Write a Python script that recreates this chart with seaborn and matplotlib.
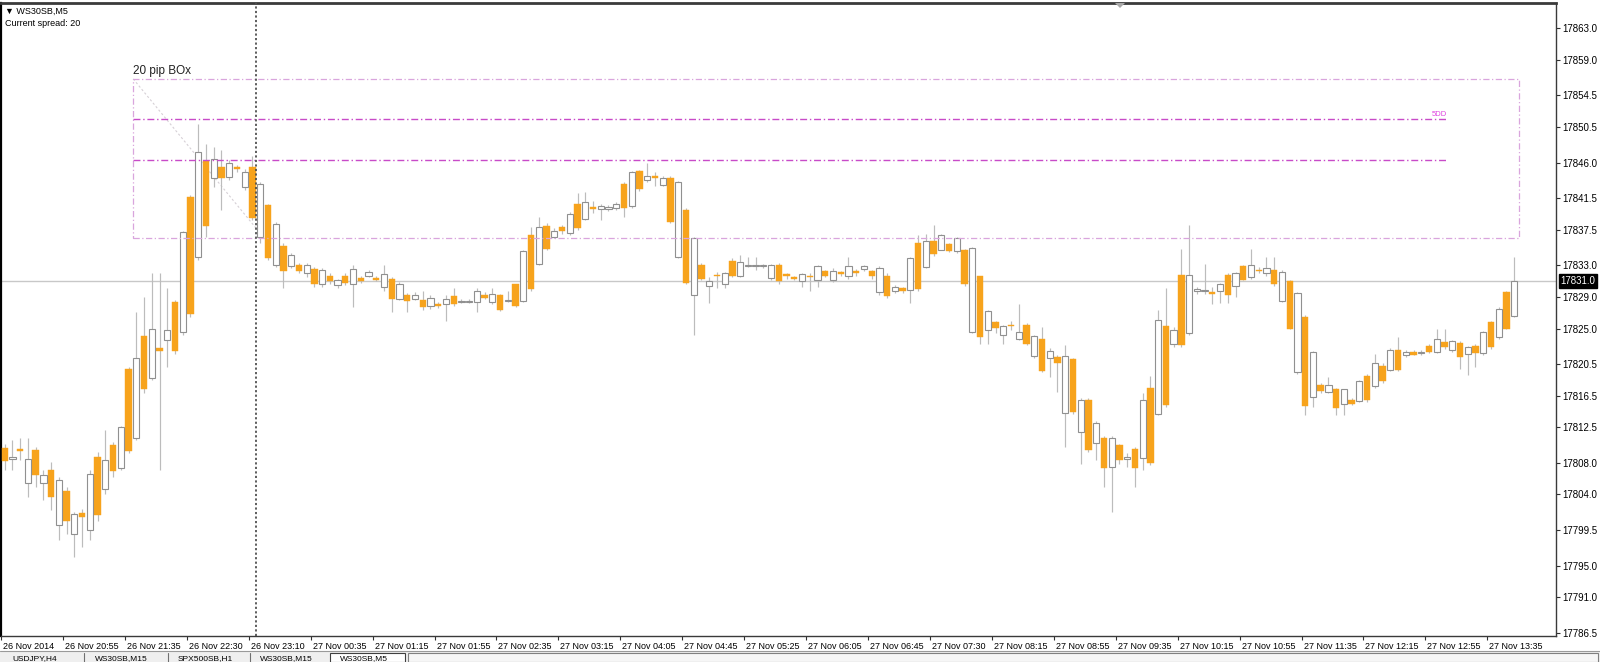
import numpy as np
import pandas as pd
import matplotlib
matplotlib.use("Agg")
import matplotlib.pyplot as plt
import seaborn as sns
from matplotlib.patches import Rectangle, Polygon
from matplotlib.lines import Line2D
from matplotlib.transforms import ScaledTranslation

# ---------------- data (WS30SB, M5) ----------------
opens = [17809.9, 17808.5, 17809.7, 17805.5, 17809.6, 17805.5, 17807.1, 17800.1, 17804.4, 17799.0,
         17801.6, 17799.5, 17808.8, 17804.7, 17810.3, 17807.4, 17819.9, 17811.2, 17824.0, 17818.7,
         17822.5, 17823.5, 17828.4, 17824.5, 17841.6, 17834.1, 17846.2, 17844.0, 17845.5, 17844.2,
         17845.4, 17842.9, 17845.5, 17836.6, 17840.6, 17833.1, 17835.5, 17832.9, 17833.1, 17832.0,
         17832.5, 17830.7, 17831.7, 17830.5, 17831.6, 17830.6, 17831.4, 17831.7, 17831.4, 17830.2,
         17831.3, 17828.8, 17829.3, 17828.7, 17828.6, 17827.8, 17828.1, 17828.1, 17829.1, 17828.3,
         17828.4, 17828.3, 17829.3, 17828.3, 17829.2, 17828.5, 17830.6, 17828.5, 17836.8, 17833.2,
         17838.0, 17836.6, 17837.8, 17837.1, 17840.8, 17838.9, 17840.4, 17840.1, 17840.1, 17840.2,
         17843.3, 17840.5, 17845.0, 17843.8, 17844.3, 17843.2, 17844.1, 17834.1, 17840.0, 17829.3,
         17833.1, 17830.4, 17831.8, 17830.6, 17833.6, 17831.7, 17832.9, 17832.9, 17832.9, 17831.4,
         17833.1, 17831.9, 17831.5, 17831.0, 17831.7, 17831.2, 17832.3, 17831.2, 17832.1, 17831.6,
         17832.3, 17832.5, 17832.3, 17829.6, 17831.7, 17829.8, 17830.1, 17829.9, 17835.8, 17832.8,
         17836.1, 17835.0, 17835.7, 17834.8, 17834.9, 17824.5, 17831.6, 17824.8, 17825.8, 17824.2,
         17825.5, 17823.7, 17825.5, 17821.5, 17823.7, 17821.3, 17821.4, 17814.3, 17821.1, 17811.9,
         17816.0, 17810.5, 17811.2, 17807.5, 17810.3, 17808.5, 17809.8, 17808.6, 17817.5, 17814.2,
         17825.3, 17823.0, 17831.8, 17824.4, 17829.8, 17829.8, 17829.6, 17829.8, 17831.8, 17830.4,
         17832.9, 17831.5, 17832.4, 17832.0, 17832.4, 17828.5, 17831.0, 17819.5, 17826.5, 17816.3,
         17817.9, 17817.0, 17817.3, 17815.5, 17816.0, 17815.8, 17819.0, 17817.7, 17820.3, 17819.8,
         17822.3, 17821.6, 17822.0, 17821.9, 17822.8, 17822.0, 17823.3, 17822.3, 17823.2, 17821.8,
         17822.8, 17821.9, 17825.8, 17823.9, 17829.6, 17826.6]
highs = [17810.4, 17810.9, 17811.1, 17811.1, 17810.0, 17807.1, 17808.1, 17806.2, 17805.0, 17801.8,
         17802.2, 17807.1, 17809.4, 17812.1, 17810.6, 17812.7, 17820.1, 17827.1, 17829.0, 17832.0,
         17832.0, 17830.1, 17828.6, 17837.4, 17841.9, 17850.9, 17848.4, 17848.0, 17847.6, 17846.3,
         17845.7, 17845.2, 17846.9, 17843.6, 17840.8, 17838.5, 17835.8, 17834.5, 17833.3, 17833.3,
         17832.8, 17832.6, 17832.0, 17831.3, 17832.0, 17833.0, 17831.7, 17832.4, 17831.6, 17833.0,
         17831.5, 17830.9, 17829.5, 17829.6, 17829.8, 17829.2, 17828.4, 17829.2, 17830.1, 17828.7,
         17828.7, 17830.1, 17829.6, 17830.1, 17829.4, 17829.8, 17830.7, 17835.0, 17837.9, 17839.1,
         17838.3, 17837.7, 17838.1, 17839.8, 17842.1, 17842.3, 17841.2, 17840.8, 17840.6, 17841.0,
         17843.6, 17845.0, 17845.1, 17845.9, 17844.8, 17844.3, 17844.3, 17843.7, 17840.2, 17836.6,
         17833.3, 17831.5, 17832.2, 17832.2, 17833.9, 17834.3, 17834.1, 17834.1, 17833.2, 17833.2,
         17833.3, 17832.0, 17831.7, 17832.0, 17832.0, 17833.0, 17832.4, 17832.6, 17832.3, 17834.1,
         17832.5, 17833.1, 17832.4, 17832.9, 17832.0, 17830.5, 17830.3, 17834.1, 17836.8, 17837.0,
         17838.1, 17837.0, 17835.8, 17836.6, 17835.1, 17835.3, 17831.7, 17827.4, 17826.0, 17825.5,
         17826.0, 17828.1, 17825.7, 17824.2, 17825.2, 17822.5, 17821.6, 17822.9, 17821.3, 17816.2,
         17816.2, 17813.3, 17811.4, 17811.4, 17810.4, 17809.2, 17810.0, 17816.8, 17819.0, 17827.3,
         17830.1, 17825.2, 17835.1, 17838.1, 17830.3, 17833.2, 17830.3, 17830.8, 17832.0, 17832.2,
         17833.1, 17835.1, 17832.8, 17834.1, 17834.1, 17832.4, 17831.1, 17829.6, 17826.7, 17822.2,
         17818.1, 17818.9, 17817.5, 17817.4, 17816.2, 17818.5, 17819.2, 17821.8, 17820.6, 17822.5,
         17823.9, 17822.3, 17822.3, 17822.3, 17823.0, 17825.0, 17825.0, 17823.6, 17823.4, 17822.8,
         17823.0, 17824.7, 17826.0, 17827.7, 17829.8, 17834.1]
lows = [17807.1, 17807.1, 17808.3, 17803.7, 17805.0, 17803.3, 17802.0, 17798.2, 17799.0, 17796.1,
        17797.4, 17798.2, 17800.7, 17804.1, 17806.2, 17807.1, 17809.2, 17810.9, 17816.8, 17818.5,
        17807.1, 17820.1, 17821.8, 17824.2, 17826.5, 17833.7, 17836.6, 17842.9, 17840.0, 17843.8,
        17844.8, 17842.5, 17838.7, 17835.8, 17833.7, 17832.8, 17830.1, 17832.6, 17832.0, 17831.5,
        17830.3, 17830.3, 17830.7, 17830.1, 17830.5, 17827.7, 17830.8, 17831.5, 17831.0, 17829.8,
        17827.1, 17828.6, 17827.1, 17828.6, 17827.3, 17827.5, 17827.6, 17826.0, 17827.9, 17828.2,
        17828.2, 17827.1, 17828.8, 17828.1, 17827.2, 17828.4, 17827.7, 17828.4, 17829.8, 17833.0,
        17835.0, 17836.4, 17837.0, 17836.9, 17837.5, 17838.7, 17839.6, 17838.7, 17839.9, 17840.0,
        17839.1, 17840.3, 17842.4, 17843.6, 17843.1, 17843.0, 17838.3, 17833.9, 17830.6, 17824.2,
        17831.1, 17828.2, 17830.1, 17830.1, 17831.5, 17831.5, 17832.8, 17832.4, 17832.6, 17831.1,
        17830.7, 17831.3, 17831.1, 17830.3, 17829.8, 17830.3, 17831.5, 17830.9, 17831.6, 17831.3,
        17831.7, 17832.3, 17831.3, 17829.3, 17828.9, 17829.5, 17829.5, 17828.2, 17829.8, 17832.6,
        17834.2, 17834.9, 17834.7, 17834.6, 17830.4, 17824.4, 17823.1, 17823.1, 17824.4, 17823.1,
        17824.8, 17823.5, 17822.9, 17821.3, 17819.5, 17818.9, 17817.0, 17810.0, 17814.2, 17807.9,
        17809.4, 17808.3, 17805.0, 17801.8, 17807.9, 17807.5, 17805.0, 17807.1, 17807.7, 17814.0,
        17815.1, 17822.7, 17822.7, 17824.2, 17829.4, 17829.4, 17828.1, 17828.2, 17828.2, 17829.0,
        17831.1, 17831.3, 17832.0, 17831.7, 17830.4, 17828.4, 17824.9, 17819.3, 17814.0, 17815.1,
        17816.9, 17816.8, 17814.0, 17814.0, 17815.3, 17815.7, 17815.7, 17817.5, 17818.1, 17819.6,
        17819.6, 17821.4, 17821.6, 17821.7, 17821.9, 17821.9, 17822.4, 17822.0, 17819.9, 17819.1,
        17820.1, 17821.7, 17822.4, 17823.7, 17824.9, 17826.4]
closes = [17808.2, 17808.7, 17809.5, 17808.5, 17806.4, 17806.4, 17803.7, 17805.8, 17800.6, 17801.5,
          17801.2, 17806.6, 17801.4, 17808.3, 17807.0, 17812.5, 17809.5, 17821.3, 17817.3, 17825.0,
          17822.2, 17824.8, 17822.2, 17837.2, 17826.8, 17847.3, 17838.0, 17846.5, 17844.1, 17845.9,
          17845.2, 17844.8, 17839.0, 17843.3, 17833.9, 17838.2, 17832.3, 17834.3, 17832.3, 17833.1,
          17830.6, 17832.4, 17831.0, 17831.1, 17830.8, 17832.5, 17831.0, 17832.1, 17831.2, 17831.9,
          17828.7, 17830.7, 17828.5, 17829.3, 17827.7, 17828.9, 17827.9, 17828.8, 17828.1, 17828.5,
          17828.5, 17829.8, 17828.9, 17829.4, 17827.4, 17828.6, 17827.9, 17834.8, 17830.0, 17837.8,
          17835.1, 17837.3, 17837.4, 17839.5, 17837.7, 17841.0, 17840.1, 17840.5, 17840.4, 17840.8,
          17840.2, 17844.8, 17842.6, 17844.3, 17844.0, 17844.1, 17838.5, 17843.5, 17830.8, 17836.5,
          17831.3, 17831.0, 17831.6, 17832.0, 17831.7, 17833.4, 17833.0, 17833.1, 17833.0, 17833.0,
          17831.0, 17831.7, 17831.3, 17831.9, 17831.5, 17832.9, 17831.7, 17832.3, 17831.9, 17832.9,
          17832.0, 17832.9, 17831.6, 17832.7, 17829.1, 17830.3, 17829.7, 17833.9, 17830.0, 17836.1,
          17834.4, 17836.8, 17834.8, 17836.4, 17830.6, 17835.2, 17823.9, 17827.2, 17825.1, 17825.3,
          17825.3, 17824.5, 17823.1, 17824.0, 17819.6, 17822.2, 17820.6, 17821.5, 17814.4, 17816.0,
          17809.6, 17813.1, 17807.4, 17811.2, 17808.4, 17808.8, 17807.4, 17816.0, 17808.0, 17826.1,
          17815.3, 17824.8, 17822.9, 17831.8, 17830.0, 17829.9, 17829.4, 17830.6, 17829.3, 17832.0,
          17831.2, 17833.1, 17832.3, 17832.7, 17830.6, 17832.2, 17825.0, 17829.5, 17815.2, 17822.0,
          17817.1, 17817.8, 17814.9, 17817.3, 17815.5, 17818.3, 17815.9, 17820.6, 17818.3, 17822.3,
          17819.8, 17822.0, 17821.7, 17822.0, 17822.0, 17823.7, 17822.6, 17823.4, 17821.4, 17822.6,
          17821.9, 17824.5, 17822.6, 17827.5, 17825.0, 17831.0]

time_labels = ["26 Nov 2014", "26 Nov 20:55", "26 Nov 21:35", "26 Nov 22:30", "26 Nov 23:10",
               "27 Nov 00:35", "27 Nov 01:15", "27 Nov 01:55", "27 Nov 02:35", "27 Nov 03:15",
               "27 Nov 04:05", "27 Nov 04:45", "27 Nov 05:25", "27 Nov 06:05", "27 Nov 06:45",
               "27 Nov 07:30", "27 Nov 08:15", "27 Nov 08:55", "27 Nov 09:35", "27 Nov 10:15",
               "27 Nov 10:55", "27 Nov 11:35", "27 Nov 12:15", "27 Nov 12:55", "27 Nov 13:35"]
price_ticks = [17863.0, 17859.0, 17854.5, 17850.5, 17846.0, 17841.5, 17837.5, 17833.0, 17829.0,
               17825.0, 17820.5, 17816.5, 17812.5, 17808.0, 17804.0, 17799.5, 17795.0, 17791.0, 17786.5]

# chart objects
box_levels = [17836.5, 17856.6]        # "20 pip BOx" bottom / top
box_bars = [16.6, 195.6]               # left / right bar position of the box
inner_levels = [17851.5, 17846.3]      # dash-dot lines inside the box
inner_end_bar = 186.3
vline_bar = 32.5
diag_bars = [16.6, 33.4]
diag_levels = [17856.6, 17836.6]
symbol = "WS30SB,M5"
spread = 20
tabs = ["USDJPY,H4", "WS30SB,M15", "SPX500SB,H1", "WS30SB,M15", "WS30SB,M5"]

# ---------------- style ----------------
sns.set_theme(style="white")
plt.rcParams["font.family"] = ["Liberation Sans", "DejaVu Sans"]

W, H = 1600, 662
fig = plt.figure(figsize=(W / 100, H / 100), dpi=100)
fig.patch.set_facecolor("white")

def fx(px):
    return px / W

def fy(py):
    return 1 - py / H

ax_l, ax_r, ax_t, ax_b = 1, 1556, 2.5, 636
ax = fig.add_axes([fx(ax_l), fy(ax_b), fx(ax_r) - fx(ax_l), fy(ax_t) - fy(ax_b)])
ax.set_facecolor("white")

df = pd.DataFrame({"open": opens, "high": highs, "low": lows, "close": closes})
df["bar"] = np.arange(len(df))
df["bull"] = df["close"] >= df["open"]
df["bottom"] = df[["open", "close"]].min(axis=1)
df["height"] = (df["close"] - df["open"]).abs().clip(lower=0.12)

ORANGE = "#F7A31C"
# wicks
ax.vlines(df["bar"], df["low"], df["high"], color="#bcbcbc", lw=0.85, zorder=2)
bear = df[~df["bull"]]
bull = df[df["bull"]]
ax.bar(bear["bar"], bear["height"], bottom=bear["bottom"], width=0.82,
       color=ORANGE, edgecolor=ORANGE, lw=0.3, zorder=3)
ax.bar(bull["bar"], bull["height"], bottom=bull["bottom"], width=0.8,
       color="white", edgecolor="#909090", lw=0.8, zorder=3)

# current price line
last = closes[-1]
ax.axhline(last, color="#c8c8c8", lw=1.0, zorder=1)

# box and lines
box_col = "#D9A5DD"
ax.add_patch(Rectangle((box_bars[0], box_levels[0]), box_bars[1] - box_bars[0],
                       box_levels[1] - box_levels[0], fill=False, ec=box_col,
                       lw=0.9, ls=(0, (5, 2, 1, 2)), zorder=4))
for lv in inner_levels:
    ax.plot([box_bars[0], inner_end_bar], [lv, lv], color="#C84BC8", lw=1.0,
            ls=(0, (5, 2, 1, 2)), zorder=4)
ax.plot(diag_bars, diag_levels, color="#d6d0d6", lw=0.8, ls=(0, (2, 2)), zorder=1)
ax.axvline(vline_bar, color="#505050", lw=1.3, ls=(0, (1.2, 1.3)), zorder=5)

ax.text(box_bars[0], box_levels[1] + 0.65, "20 pip BOx", fontsize=8.5, color="#222222",
        ha="left", va="baseline")
ax.text(inner_end_bar, inner_levels[0] + 0.15, "5DD", fontsize=5.5, color="#E045E0",
        ha="right", va="bottom")

# axes limits
ax.set_xlim(-0.478, 200.4)
ax.set_ylim(17786.08, 17866.27)

# y axis on the right
ax.yaxis.tick_right()
ax.set_yticks(price_ticks)
ax.set_yticklabels([f"{v:.1f}" for v in price_ticks])
ax.tick_params(axis="y", which="both", right=True, left=False, labelright=True,
               labelleft=False, length=3, width=0.8, color="#303030",
               labelsize=7, labelcolor="black", pad=1.5)

# x axis labels every 8 bars, drawn left-aligned after their tick
label_bars = list(range(0, len(opens), 8))[:len(time_labels)]
ax.set_xticks([b - 0.47 for b in label_bars])
ax.set_xticklabels(time_labels)
ax.tick_params(axis="x", which="both", bottom=True, length=3, width=0.8,
               color="#303030", labelsize=6.5, labelcolor="black", pad=1.5)
offset = ScaledTranslation(2 / 100, 0, fig.dpi_scale_trans)
for lbl in ax.get_xticklabels():
    lbl.set_horizontalalignment("left")
    lbl.set_transform(lbl.get_transform() + offset)

for side in ["left", "right", "top", "bottom"]:
    ax.spines[side].set_visible(True)
ax.spines["left"].set_color("black")
ax.spines["left"].set_linewidth(1.6)
ax.spines["top"].set_color("#3a3a3a")
ax.spines["top"].set_linewidth(2.0)
ax.spines["right"].set_color("#3a3a3a")
ax.spines["right"].set_linewidth(1.0)
ax.spines["bottom"].set_color("#3a3a3a")
ax.spines["bottom"].set_linewidth(1.0)
ax.grid(False)

# current price label
ax.annotate(f"{last:.1f}", xy=(1, last), xycoords=("axes fraction", "data"),
            xytext=(3.2, 0), textcoords="offset points", ha="left", va="center",
            fontsize=7, color="white", annotation_clip=False, zorder=10,
            bbox=dict(boxstyle="square,pad=0.2", fc="black", ec="black"))

# header text
fig.text(fx(5), fy(11), "\u25BC " + symbol, fontsize=6.5, ha="left", va="center", color="black")
fig.text(fx(5), fy(24), f"Current spread: {spread}", fontsize=6.5, ha="left", va="center",
         color="black")
fig.add_artist(Polygon([[fx(1115), fy(3)], [fx(1125), fy(3)], [fx(1120), fy(8)]],
                       closed=True, transform=fig.transFigure, fc="#a8a8a8", ec="none"))

# bottom tab strip
fig.add_artist(Rectangle((0, 0), 1, fy(651), transform=fig.transFigure,
                         fc="#efefef", ec="none", zorder=0))
fig.add_artist(Line2D([0, 1], [fy(651), fy(651)], transform=fig.transFigure,
                      color="#9a9a9a", lw=0.8))
tab_x = [12, 95, 178, 260, 340]
for sx in [84, 168, 250]:
    fig.add_artist(Line2D([fx(sx), fx(sx)], [fy(653), 0], transform=fig.transFigure,
                          color="#707070", lw=0.8))
fig.add_artist(Rectangle((fx(330), 0), fx(405) - fx(330), fy(652.5), transform=fig.transFigure,
                         fc="white", ec="#404040", lw=0.8, zorder=1))
fig.add_artist(Rectangle((fx(408), 0), fx(1598) - fx(408), fy(652.5), transform=fig.transFigure,
                         fc="#f6f6f6", ec="#808080", lw=0.8, zorder=1))
for t, px in zip(tabs, tab_x):
    fig.text(fx(px), fy(660), t, fontsize=6, ha="left", va="baseline", color="black", zorder=3)

fig.savefig("out.png", dpi=100, facecolor="white")
